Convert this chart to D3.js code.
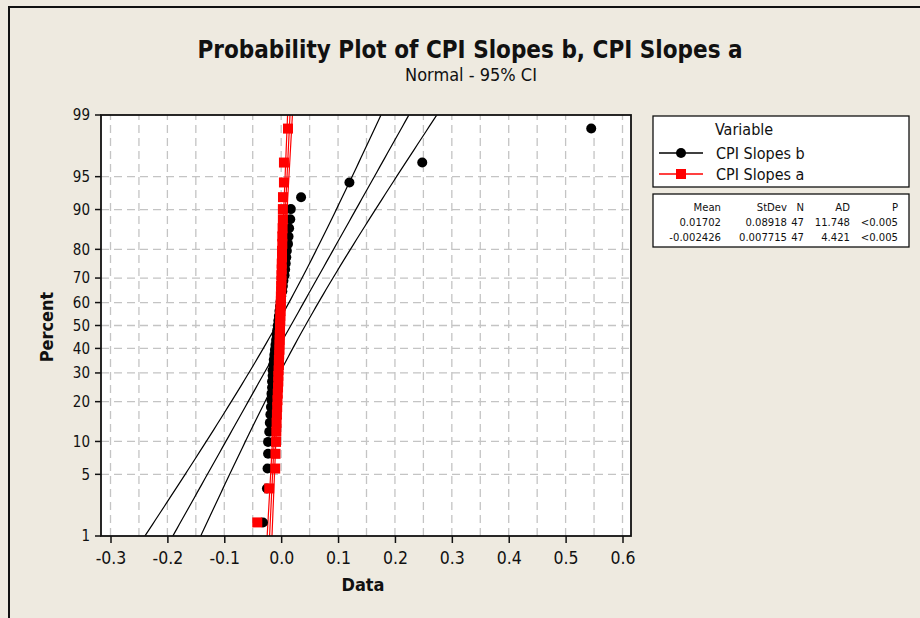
<!DOCTYPE html>
<html>
<head>
<meta charset="utf-8">
<script src="https://cdn.jsdelivr.net/npm/d3@7"></script>
<style>
  body { margin: 0; background: #eeeae0; }
  svg text { font-family: "DejaVu Sans Condensed", "DejaVu Sans", sans-serif; font-stretch: condensed; }
</style>
</head>
<body>
<div id="chart"></div>
<script>
const seriesNames = ["CPI Slopes b", "CPI Slopes a"];
// sorted data values, 47 each
const slopesB = [-0.032, -0.025, -0.024, -0.023, -0.023, -0.021, -0.020, -0.019, -0.018, -0.017,
  -0.017, -0.016, -0.016, -0.015, -0.015, -0.014, -0.013, -0.012, -0.011, -0.010,
  -0.009, -0.008, -0.007, -0.006, -0.005, -0.004, -0.003, -0.002, -0.001, 0.000,
  0.002, 0.003, 0.004, 0.006, 0.007, 0.008, 0.009, 0.010, 0.012, 0.013,
  0.014, 0.016, 0.017, 0.035, 0.120, 0.248, 0.545];
const slopesA = [-0.042, -0.021, -0.0105, -0.010, -0.009, -0.0085, -0.008, -0.0075, -0.007, -0.0065,
  -0.006, -0.0055, -0.005, -0.005, -0.0045, -0.004, -0.004, -0.0035, -0.003, -0.003,
  -0.0025, -0.0025, -0.002, -0.002, -0.0015, -0.0015, -0.001, -0.001, -0.0005, -0.0005,
  0.000, 0.000, 0.0005, 0.0005, 0.001, 0.001, 0.0015, 0.0015, 0.002, 0.002,
  0.0025, 0.003, 0.003, 0.0032, 0.0049, 0.0049, 0.012];
const statMean = [0.01702, -0.002426];
const statStDev = [0.08918, 0.007715];
const statN = [47, 47];
const statAD = [11.748, 4.421];
const statP = ["<0.005", "<0.005"];
const statHeaders = ["Mean", "StDev", "N", "AD", "P"];
const percentTicks = [1, 5, 10, 20, 30, 40, 50, 60, 70, 80, 90, 95, 99];
const dataTicks = [-0.3, -0.2, -0.1, 0.0, 0.1, 0.2, 0.3, 0.4, 0.5, 0.6];

// inverse normal cdf (Acklam)
function qnorm(p) {
  const a = [-3.969683028665376e+01, 2.209460984245205e+02, -2.759285104469687e+02, 1.383577518672690e+02, -3.066479806614716e+01, 2.506628277459239e+00];
  const b = [-5.447609879822406e+01, 1.615858368580409e+02, -1.556989798598866e+02, 6.680131188771972e+01, -1.328068155288572e+01];
  const c = [-7.784894002430293e-03, -3.223964580411365e-01, -2.400758277161838e+00, -2.549732539343734e+00, 4.374664141464968e+00, 2.938163982698783e+00];
  const d = [7.784695709041462e-03, 3.224671290700398e-01, 2.445134137142996e+00, 3.754408661907416e+00];
  const pl = 0.02425;
  if (p < pl) {
    const q = Math.sqrt(-2 * Math.log(p));
    return (((((c[0]*q+c[1])*q+c[2])*q+c[3])*q+c[4])*q+c[5]) / ((((d[0]*q+d[1])*q+d[2])*q+d[3])*q+1);
  }
  if (p <= 1 - pl) {
    const q = p - 0.5, r = q * q;
    return (((((a[0]*r+a[1])*r+a[2])*r+a[3])*r+a[4])*r+a[5])*q / (((((b[0]*r+b[1])*r+b[2])*r+b[3])*r+b[4])*r+1);
  }
  const q = Math.sqrt(-2 * Math.log(1 - p));
  return -(((((c[0]*q+c[1])*q+c[2])*q+c[3])*q+c[4])*q+c[5]) / ((((d[0]*q+d[1])*q+d[2])*q+d[3])*q+1);
}

const W = 920, H = 618;
const plot = { left: 101, right: 631, top: 115, bottom: 536 };

const svg = d3.select("#chart").append("svg")
  .attr("width", W)
  .attr("height", H);

svg.append("rect").attr("width", W).attr("height", H).attr("fill", "#eeeae0");
// outer frame (cut off on right/bottom)
svg.append("path")
  .attr("d", `M9,${H + 5}V7H${W + 5}`)
  .attr("fill", "none")
  .attr("stroke", "#111")
  .attr("stroke-width", 2);

const x = d3.scaleLinear().domain([-0.3, 0.6]).range([110.5, 622.5]);
const z = d3.scaleLinear().domain([qnorm(0.01), qnorm(0.99)]).range([plot.bottom, plot.top]);
const yPct = p => z(qnorm(p / 100));

svg.append("defs").append("clipPath").attr("id", "clip")
  .append("rect")
  .attr("x", plot.left).attr("y", plot.top)
  .attr("width", plot.right - plot.left).attr("height", plot.bottom - plot.top);

svg.append("rect")
  .attr("x", plot.left).attr("y", plot.top)
  .attr("width", plot.right - plot.left).attr("height", plot.bottom - plot.top)
  .attr("fill", "#fff");

// grid
const grid = svg.append("g").attr("stroke", "#c4c4c4").attr("stroke-dasharray", "8,5").attr("stroke-width", 1.3);
grid.selectAll("line.v")
  .data(d3.range(-0.3, 0.6001, 0.05))
  .enter().append("line")
  .attr("x1", d => x(d)).attr("x2", d => x(d))
  .attr("y1", plot.bottom).attr("y2", plot.top);
grid.selectAll("line.h")
  .data(percentTicks.slice(1, -1))
  .enter().append("line")
  .attr("x1", plot.left).attr("x2", plot.right)
  .attr("y1", d => yPct(d)).attr("y2", d => yPct(d));

// axes
const xAxis = d3.axisBottom(x).tickValues(dataTicks).tickSize(7).tickSizeOuter(0)
  .tickFormat(d3.format(".1f"));
const gx = svg.append("g").attr("transform", `translate(0,${plot.bottom})`).call(xAxis);
gx.select(".domain").remove();
gx.selectAll("line").attr("stroke", "#111").attr("stroke-width", 1.5);
gx.selectAll("text").attr("font-size", 17.5).attr("fill", "#111").attr("dy", "1.05em")
  .text(d => d3.format(".1f")(d).replace("−", "-"));

const gy = svg.append("g").attr("transform", `translate(${plot.left},0)`);
gy.selectAll("line").data(percentTicks).enter().append("line")
  .attr("x1", -6).attr("x2", 0)
  .attr("y1", d => yPct(d)).attr("y2", d => yPct(d))
  .attr("stroke", "#111").attr("stroke-width", 1.5);
gy.selectAll("text").data(percentTicks).enter().append("text")
  .attr("x", -11).attr("y", d => yPct(d)).attr("dy", "0.36em")
  .attr("text-anchor", "end").attr("font-size", 15).attr("fill", "#111")
  .text(d => d);

const clipped = svg.append("g").attr("clip-path", "url(#clip)");
const colors = ["#000", "#ff0000"];
const allSeries = [slopesB, slopesA];

// fitted line and 95% CI from mean/stdev
const zGrid = d3.range(-3, 3.001, 0.05);
allSeries.forEach((vals, s) => {
  const n = statN[s], mu = statMean[s], sd = statStDev[s];
  const fit = zz => mu + sd * zz;
  const half = zz => 1.96 * sd * Math.sqrt(1 / n + zz * zz / (2 * n));
  const line = d3.line().x(d => x(d[0])).y(d => z(d[1]));
  [zz => fit(zz) - half(zz), fit, zz => fit(zz) + half(zz)].forEach(f => {
    clipped.append("path")
      .datum(zGrid.map(zz => [f(zz), zz]))
      .attr("d", line)
      .attr("fill", "none")
      .attr("stroke", colors[s])
      .attr("stroke-width", 1.2);
  });
});

// points at median ranks
allSeries.forEach((vals, s) => {
  const n = vals.length;
  const pts = vals.map((v, i) => ({ v, zz: qnorm((i + 1 - 0.3) / (n + 0.4)) }));
  if (s === 0) {
    clipped.selectAll("circle.b").data(pts).enter().append("circle")
      .attr("cx", d => x(d.v)).attr("cy", d => z(d.zz)).attr("r", 5)
      .attr("fill", colors[0]);
  } else {
    clipped.selectAll("rect.a").data(pts).enter().append("rect")
      .attr("x", d => x(d.v) - 5).attr("y", d => z(d.zz) - 5)
      .attr("width", 10).attr("height", 10)
      .attr("fill", colors[1]);
  }
});

// frame of plot
svg.append("rect")
  .attr("x", plot.left).attr("y", plot.top)
  .attr("width", plot.right - plot.left).attr("height", plot.bottom - plot.top)
  .attr("fill", "none").attr("stroke", "#111").attr("stroke-width", 1.8);

// titles
svg.append("text").attr("x", 470).attr("y", 58).attr("text-anchor", "middle")
  .attr("font-size", 24).attr("font-weight", "bold").attr("fill", "#111")
  .text("Probability Plot of CPI Slopes b, CPI Slopes a");
svg.append("text").attr("x", 471).attr("y", 81).attr("text-anchor", "middle")
  .attr("font-size", 18).attr("fill", "#111")
  .text("Normal - 95% CI");
svg.append("text").attr("x", 363).attr("y", 591).attr("text-anchor", "middle")
  .attr("font-size", 18).attr("font-weight", "bold").attr("fill", "#111")
  .text("Data");
svg.append("text").attr("transform", "translate(53,327) rotate(-90)").attr("text-anchor", "middle")
  .attr("font-size", 18).attr("font-weight", "bold").attr("fill", "#111")
  .text("Percent");

// legend
const lg = svg.append("g");
lg.append("rect").attr("x", 653).attr("y", 116).attr("width", 256).attr("height", 71)
  .attr("fill", "#fff").attr("stroke", "#111").attr("stroke-width", 1.3);
lg.append("text").attr("x", 715).attr("y", 135).attr("font-size", 16).attr("fill", "#111").text("Variable");
seriesNames.forEach((name, s) => {
  const yy = 153 + s * 21;
  lg.append("line").attr("x1", 659).attr("x2", 703).attr("y1", yy).attr("y2", yy)
    .attr("stroke", colors[s]).attr("stroke-width", 1.3);
  if (s === 0) lg.append("circle").attr("cx", 681).attr("cy", yy).attr("r", 5).attr("fill", colors[s]);
  else lg.append("rect").attr("x", 676).attr("y", yy - 5).attr("width", 10).attr("height", 10).attr("fill", colors[s]);
  lg.append("text").attr("x", 716).attr("y", yy + 5.5).attr("font-size", 16).attr("fill", "#111").text(name);
});

// stats table
const st = svg.append("g");
st.append("rect").attr("x", 653).attr("y", 194).attr("width", 256).attr("height", 53)
  .attr("fill", "#fff").attr("stroke", "#111").attr("stroke-width", 1.3);
const colRight = [721, 787, 804, 850, 898];
const fmtRow = s => [String(statMean[s]), String(statStDev[s]), String(statN[s]), d3.format(".3f")(statAD[s]), statP[s]];
const rows = [statHeaders, fmtRow(0), fmtRow(1)];
rows.forEach((row, r) => {
  row.forEach((txt, c) => {
    st.append("text").attr("x", colRight[c]).attr("y", 211 + r * 15)
      .attr("text-anchor", "end").attr("font-size", 11.2).attr("fill", "#111").text(txt);
  });
});
</script>
</body>
</html>
